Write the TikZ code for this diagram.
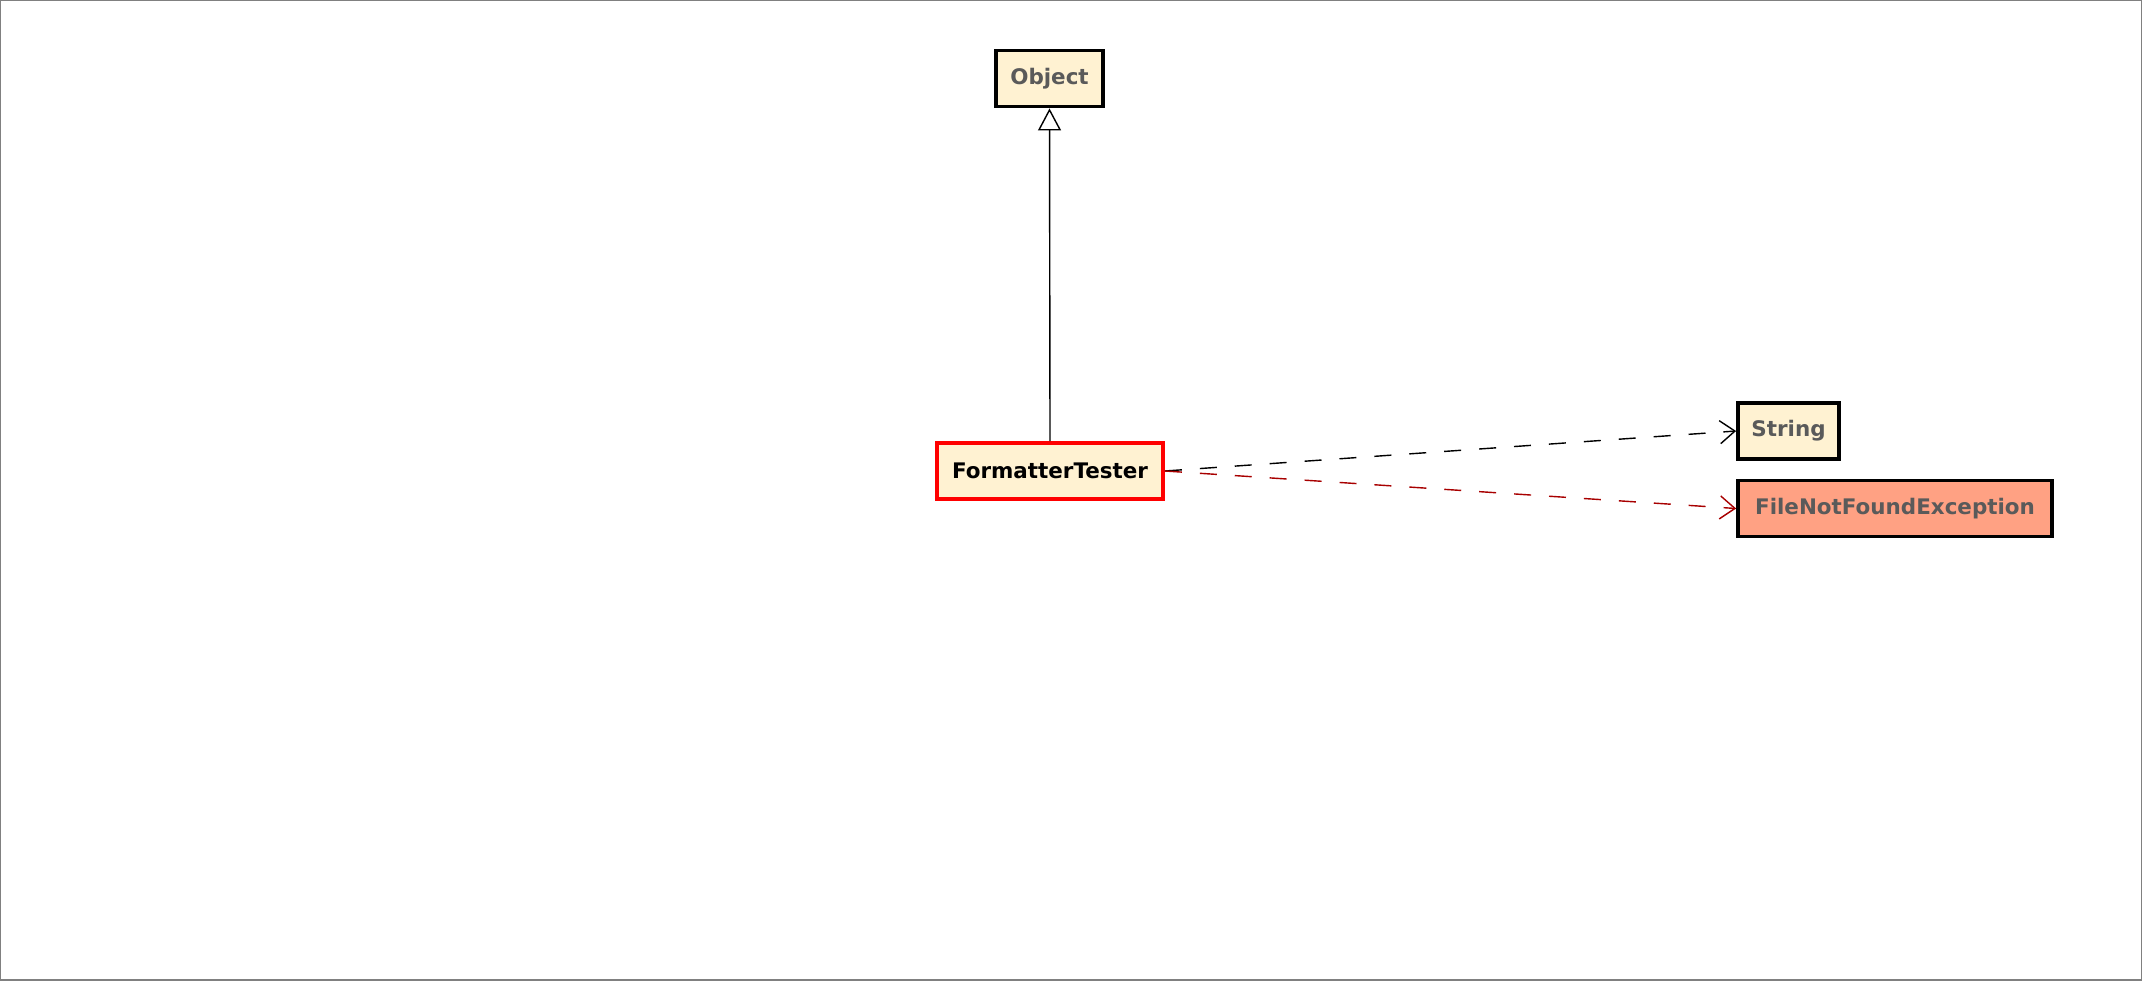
\documentclass[tikz,border=0pt]{standalone}
\usepackage{fontspec}
\setmainfont{DejaVu Sans}
\usepackage{xcolor}
\usetikzlibrary{arrows.meta}
\definecolor{classfill}{HTML}{FFF2D2}
\definecolor{excfill}{HTML}{FFA183}
\definecolor{libtext}{HTML}{5A5A5A}
\definecolor{deplred}{HTML}{A80000}

\begin{document}
\begin{tikzpicture}[x=0.02cm, y=0.02cm,
  classbox/.style={draw=black, line width=2.2pt, fill=classfill, inner sep=0pt,
    minimum height=1.12cm, font=\fontsize{12.2}{14}\selectfont\bfseries, text=libtext},
  dep/.style={line width=0.8pt, dash pattern=on 0.34cm off 0.36cm, -{Straight Barb[length=0.3cm,width=0.46cm]}}]
\useasboundingbox (0,0) rectangle (2142,-980);
\draw[gray, line width=0.8pt] (0,0) rectangle (2142,-980);
% CLASSES
\node[classbox, minimum width=2.14cm] (object) at (1049.5,-78.5) {Object};
\node[classbox, minimum width=4.52cm, draw=red, text=black] (tester) at (1050,-471) {FormatterTester};
\node[classbox, minimum width=2.02cm] (string) at (1788.5,-431) {String};
\node[classbox, minimum width=6.28cm, fill=excfill] (fnfe) at (1895,-508.5) {FileNotFoundException};
% INHERITANCE
\draw[line width=0.8pt, -{Triangle[open, length=0.44cm, width=0.46cm, fill=white]}] (tester.north) -- (object.south);
% DEPENDENCIES
\draw[dep] (tester.east) -- (string.west);
\draw[dep, deplred] (tester.east) -- (fnfe.west);
\end{tikzpicture}
\end{document}
